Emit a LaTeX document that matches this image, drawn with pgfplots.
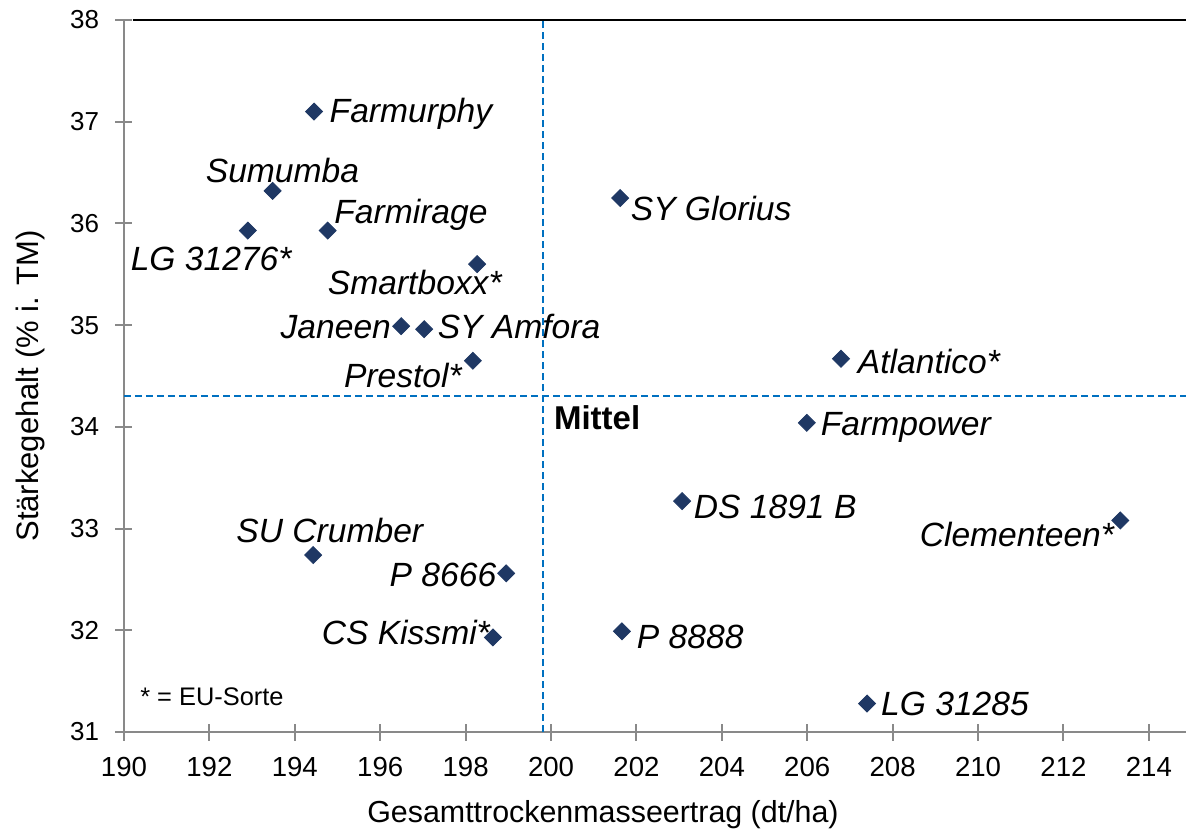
\documentclass[border=0pt]{standalone}
\usepackage{fontspec}
\setmainfont{Liberation Sans}
\usepackage{pgfplots}
\usepackage{pgfplotstable}
\pgfplotsset{compat=1.18}
\definecolor{navy}{HTML}{1F3864}
\definecolor{mblue}{HTML}{0070C0}
\definecolor{axgray}{HTML}{898989}
\pgfplotstableread{
x y
194.45 37.10
193.48 36.32
192.90 35.93
194.77 35.93
198.27 35.60
201.62 36.25
196.49 34.99
197.03 34.96
198.17 34.65
206.79 34.67
205.99 34.04
203.07 33.27
213.33 33.08
194.43 32.74
198.95 32.56
198.64 31.93
201.66 31.99
207.40 31.28
}\sorten
\newcommand{\lab}{\fontsize{16.8}{20}\selectfont\itshape}
\begin{document}
\begin{tikzpicture}
\begin{axis}[name=ax, at={(0,0)}, anchor=south west,
  scale only axis, width=531pt, height=356pt,
  xmin=190, xmax=214.87, ymin=31, ymax=38,
  xtick={190,192,...,214}, ytick={31,32,...,38},
  axis x line=bottom, axis y line=left,
  axis line style={axgray, line width=1pt, -},
  tick align=center, major tick length=8.5pt,
  tick style={axgray, line width=1pt},
  /pgf/number format/assume math mode=true,
  /pgf/number format/1000 sep={},
  x tick label style={font=\fontsize{13.8}{16}\selectfont, anchor=north, inner sep=0pt, yshift=-8pt},
  y tick label style={font=\fontsize{13}{15}\selectfont, anchor=east, inner sep=0pt, xshift=-8pt},
  xlabel={Gesamttrockenmasseertrag (dt/ha)},
  ylabel={Stärkegehalt (\% i. TM)},
  xlabel style={font=\fontsize{15.2}{18}\selectfont, at={(axis description cs:0.451,0)}, anchor=center, yshift=-41.5pt},
  ylabel style={font=\fontsize{15.5}{18}\selectfont, at={(axis description cs:0,0.486)}, anchor=center, yshift=47pt},
  clip=false,
]
\addplot[black, line width=1pt] coordinates {(190.2,38) (214.87,38)};
\addplot[mblue, line width=1pt, dash pattern=on 3.5pt off 2pt] coordinates {(199.82,31) (199.82,38)};
\addplot[mblue, line width=1pt, dash pattern=on 3.5pt off 2pt] coordinates {(190,34.30) (214.87,34.30)};
\addplot[only marks, mark=square*, mark size=3pt, mark options={rotate=45, fill=navy, draw=navy}] table[x=x, y=y] {\sorten};
\node[font=\lab] at (axis cs:196.72,37.08) {Farmurphy};
\node[font=\lab] at (axis cs:193.71,36.525) {Sumumba};
\node[font=\lab] at (axis cs:192.04,35.65) {LG 31276*};
\node[font=\lab] at (axis cs:196.72,36.08) {Farmirage};
\node[font=\lab] at (axis cs:196.81,35.42) {Smartboxx*};
\node[font=\lab] at (axis cs:203.75,36.15) {SY Glorius};
\node[font=\lab] at (axis cs:194.96,34.98) {Janeen};
\node[font=\lab] at (axis cs:199.25,34.99) {SY Amfora};
\node[font=\lab] at (axis cs:196.53,34.51) {Prestol*};
\node[font=\lab] at (axis cs:208.85,34.64) {Atlantico*};
\node[font=\lab] at (axis cs:208.31,33.99) {Farmpower};
\node[font=\lab] at (axis cs:205.25,33.21) {DS 1891 B};
\node[font=\lab] at (axis cs:210.91,32.94) {Clementeen*};
\node[font=\lab] at (axis cs:194.82,32.98) {SU Crumber};
\node[font=\lab] at (axis cs:197.47,32.54) {P 8666};
\node[font=\lab] at (axis cs:196.60,31.98) {CS Kissmi*};
\node[font=\lab] at (axis cs:203.26,31.93) {P 8888};
\node[font=\lab] at (axis cs:209.46,31.28) {LG 31285};
\node[font=\fontsize{16.5}{20}\selectfont\bfseries] at (axis cs:201.08,34.09) {Mittel};
\node[font=\fontsize{12.7}{15}\selectfont] at (axis cs:192.06,31.35) {* = EU-Sorte};
\end{axis}
\pgfresetboundingbox
\path (-62pt,-50pt) rectangle (531pt,366pt);
\end{tikzpicture}
\end{document}
